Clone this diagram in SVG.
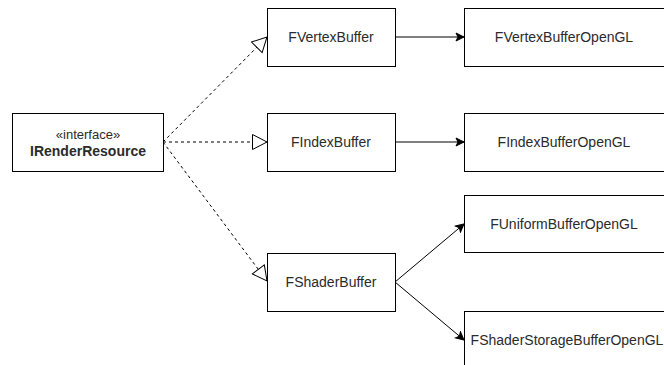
<svg xmlns="http://www.w3.org/2000/svg" width="664" height="365" viewBox="0 0 664 365">
  <style>
    .box { fill: #ffffff; stroke: #000000; stroke-width: 1; }
    .label { font-family: "Liberation Sans", Arial, Helvetica, sans-serif; font-size: 14px; fill: #2b2b2b; text-anchor: middle; dominant-baseline: central; }
    .small { font-size: 13px; }
    .bold { font-weight: bold; }
    .realize { fill: none; stroke: #000000; stroke-width: 1; stroke-dasharray: 3 3; }
    .assoc { fill: none; stroke: #000000; stroke-width: 1; }
  </style>
  <defs>
    <!-- hollow triangle for interface realization -->
    <marker id="hollow" viewBox="0 0 17 17" refX="16" refY="8.5" markerWidth="17" markerHeight="17" markerUnits="userSpaceOnUse" orient="auto">
      <path d="M1.5,1 L16,8.5 L1.5,16 Z" fill="#ffffff" stroke="#000000" stroke-width="1"/>
    </marker>
    <!-- filled classic arrowhead -->
    <marker id="filled" viewBox="0 0 10 10" refX="9" refY="5" markerWidth="10" markerHeight="10" markerUnits="userSpaceOnUse" orient="auto">
      <path d="M1,1 L9,5 L1,9 L3,5 Z" fill="#000000" stroke="#000000" stroke-width="1"/>
    </marker>
  </defs>

  <rect width="664" height="365" fill="#ffffff"/>

  <g id="connectors">
    <path class="realize" d="M163,142 L267,37" marker-end="url(#hollow)"/>
    <path class="realize" d="M163,142 L267,142" marker-end="url(#hollow)"/>
    <path class="realize" d="M163,142 L267,281" marker-end="url(#hollow)"/>
    <path class="assoc" d="M395,37 L464,37" marker-end="url(#filled)"/>
    <path class="assoc" d="M395,142 L464,142" marker-end="url(#filled)"/>
    <path class="assoc" d="M395,282 L464,224" marker-end="url(#filled)"/>
    <path class="assoc" d="M395,282 L464,340" marker-end="url(#filled)"/>
  </g>

  <g id="IRenderResource">
    <rect class="box" x="12.5" y="113.5" width="151" height="58"/>
    <text class="label small" x="88" y="134">«interface»</text>
    <text class="label bold" x="88" y="151">IRenderResource</text>
  </g>

  <g id="FVertexBuffer">
    <rect class="box" x="267.5" y="8.5" width="128" height="58"/>
    <text class="label" x="331" y="37">FVertexBuffer</text>
  </g>

  <g id="FIndexBuffer">
    <rect class="box" x="267.5" y="113.5" width="128" height="58"/>
    <text class="label" x="331" y="142">FIndexBuffer</text>
  </g>

  <g id="FShaderBuffer">
    <rect class="box" x="267.5" y="253.5" width="128" height="58"/>
    <text class="label" x="331" y="282">FShaderBuffer</text>
  </g>

  <g id="FVertexBufferOpenGL">
    <rect class="box" x="464.5" y="8.5" width="202" height="58"/>
    <text class="label" x="564" y="37">FVertexBufferOpenGL</text>
  </g>

  <g id="FIndexBufferOpenGL">
    <rect class="box" x="464.5" y="113.5" width="202" height="58"/>
    <text class="label" x="564" y="142">FIndexBufferOpenGL</text>
  </g>

  <g id="FUniformBufferOpenGL">
    <rect class="box" x="464.5" y="195.5" width="202" height="57"/>
    <text class="label" x="564" y="224">FUniformBufferOpenGL</text>
  </g>

  <g id="FShaderStorageBufferOpenGL">
    <rect class="box" x="464.5" y="311.5" width="202" height="58"/>
    <text class="label" x="567" y="340">FShaderStorageBufferOpenGL</text>
  </g>
</svg>
